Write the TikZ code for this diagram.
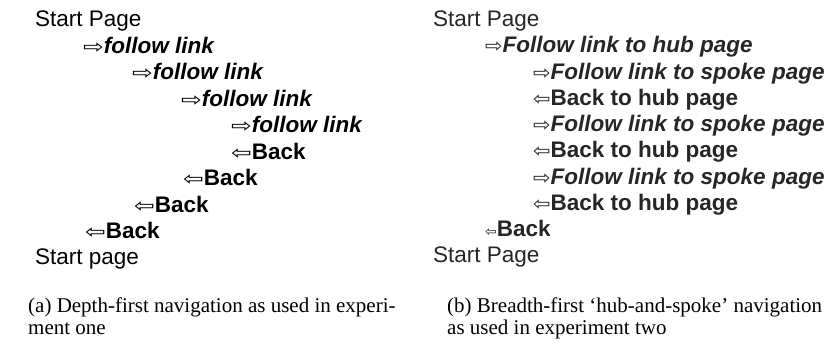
\documentclass[tikz,border=0pt]{standalone}
\usepackage{fontspec}
\setmainfont{Liberation Sans}
\newfontfamily\capfont{Liberation Serif}
\newfontfamily\arrfont{DejaVu Sans}
\newcommand{\fwd}{{\arrfont\fontsize{19}{19}\selectfont\scalebox{1.3}[1]{⇨}}}
\newcommand{\bwd}{{\arrfont\fontsize{19}{19}\selectfont\scalebox{1.3}[1]{⇦}}}
\newcommand{\fwdr}{{\arrfont\fontsize{19}{19}\selectfont\scalebox{1.1}[1]{⇨}}}
\newcommand{\bwdr}{{\arrfont\fontsize{19}{19}\selectfont\scalebox{1.1}[1]{⇦}}}
\begin{document}
\begin{tikzpicture}[x=1pt,y=-1pt,
  ln/.style={anchor=base west, inner sep=0pt, font=\fontsize{22.5}{26}\selectfont},
  lnb/.style={ln, text=black!85},
  captext/.style={anchor=base west, inner sep=0pt, font=\capfont\fontsize{21}{22}\selectfont, align=left}]
\useasboundingbox (0,0) rectangle (836,363);
% left panel
\node[ln] (a0) at (35,27) {Start Page};
\node[ln] (a1) at (83,53.5) {\fwd\textbf{\textit{follow link}}};
\node[ln] (a2) at (132,80) {\fwd\textbf{\textit{follow link}}};
\node[ln] (a3) at (181,106.5) {\fwd\textbf{\textit{follow link}}};
\node[ln] (a4) at (231,133) {\fwd\textbf{\textit{follow link}}};
\node[ln] (a5) at (231,159.5) {\bwd\textbf{Back}};
\node[ln] (a6) at (183,186) {\bwd\textbf{Back}};
\node[ln] (a7) at (134,212.5) {\bwd\textbf{Back}};
\node[ln] (a8) at (85,239) {\bwd\textbf{Back}};
\node[ln] (a9) at (35,265) {Start page};
% right panel
\node[lnb] (b0) at (433,27) {Start Page};
\node[lnb] (b1) at (485,53) {\fwdr\textbf{\textit{Follow link to hub page}}};
\node[lnb] (b2) at (533,79.5) {\fwdr\textbf{\textit{Follow link to spoke page}}};
\node[lnb] (b3) at (533,105.5) {\bwdr\textbf{Back to hub page}};
\node[lnb] (b4) at (533,132) {\fwdr\textbf{\textit{Follow link to spoke page}}};
\node[lnb] (b5) at (533,158) {\bwdr\textbf{Back to hub page}};
\node[lnb] (b6) at (533,184.5) {\fwdr\textbf{\textit{Follow link to spoke page}}};
\node[lnb] (b7) at (533,210.5) {\bwdr\textbf{Back to hub page}};
\node[lnb] (b8) at (485,237) {{\arrfont\fontsize{14}{14}\selectfont ⇦}\textbf{Back}};
\node[lnb] (b9) at (433,263) {Start Page};
% captions
\node[captext] (ca) at (28,335) {(a) Depth-first navigation as used in experi-\\ment one};
\node[captext] (cb) at (447,335) {(b) Breadth-first ‘hub-and-spoke’ navigation\\as used in experiment two};
\end{tikzpicture}
\end{document}
